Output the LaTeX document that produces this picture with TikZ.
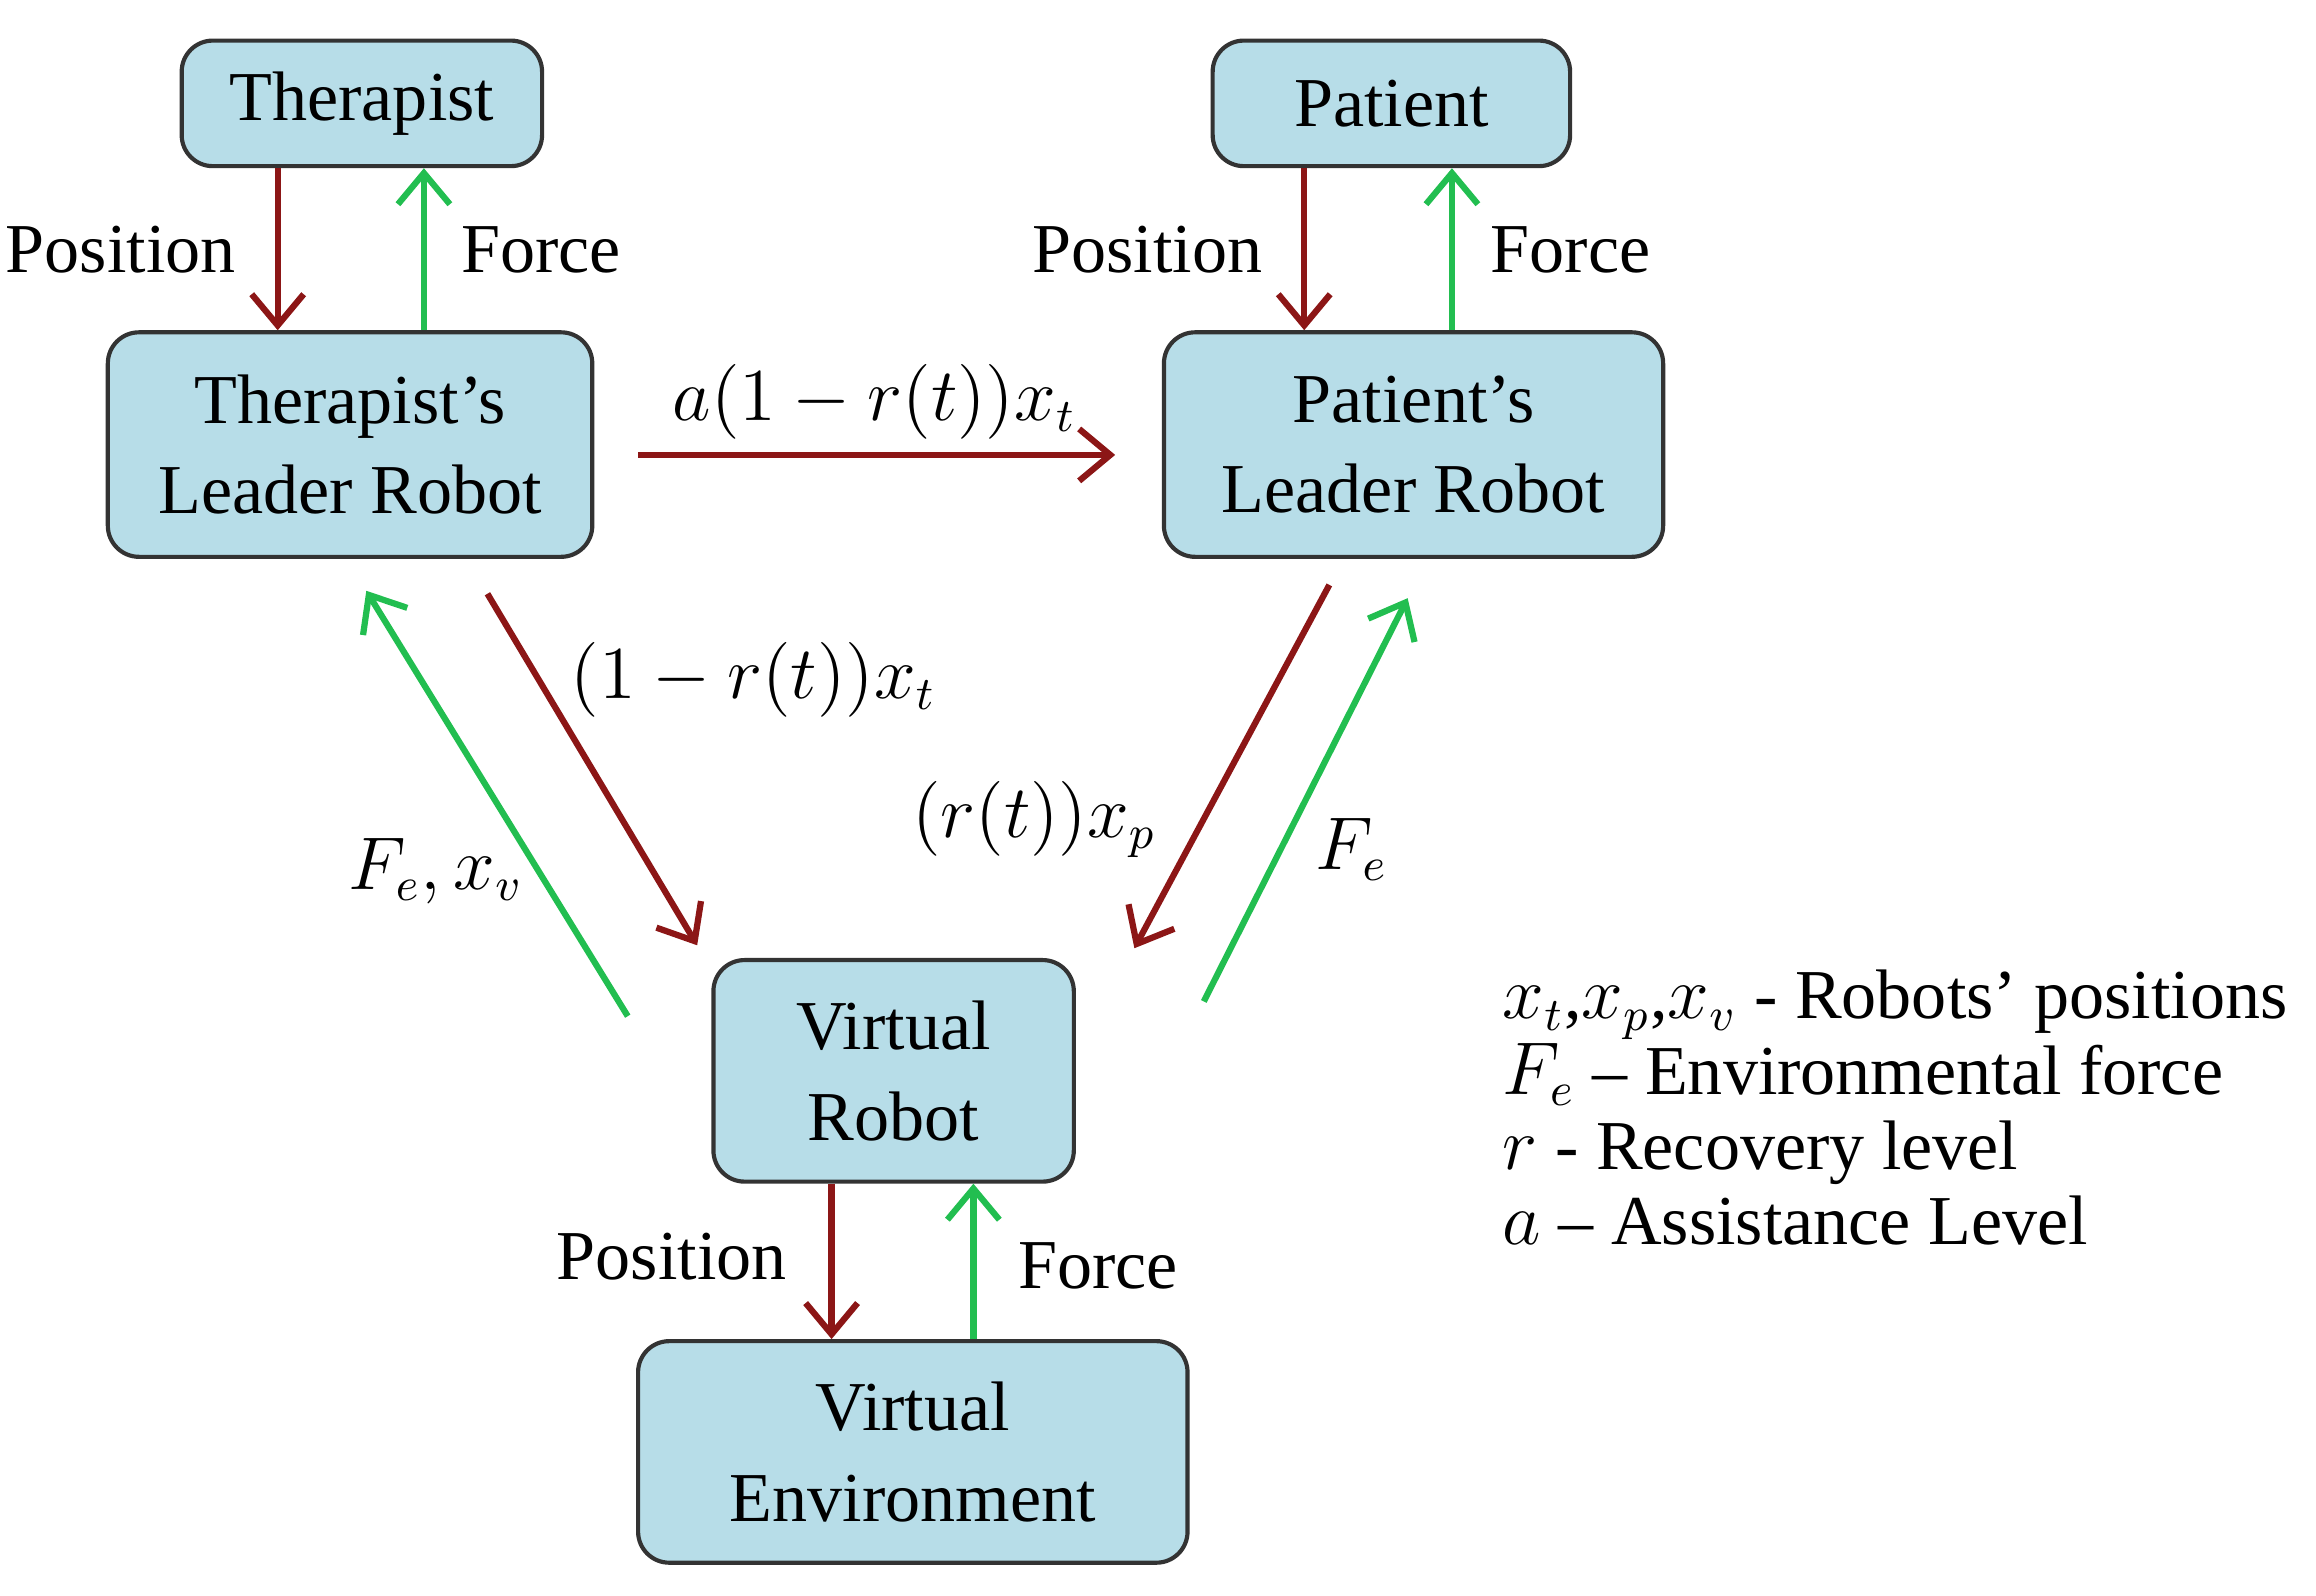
\documentclass[tikz,border=0pt]{standalone}
\usepackage{fontspec}
\setmainfont{Liberation Serif}
\usetikzlibrary{arrows.meta}
\definecolor{boxblue}{RGB}{183,221,232}
\definecolor{posred}{RGB}{140,22,22}
\definecolor{forcegreen}{RGB}{34,190,80}
\tikzset{
	block/.style={draw=black!80, fill=boxblue, rounded corners=6pt, line width=0.8pt, align=center, inner sep=0pt, font=\fontsize{13.5}{17.5}\selectfont},
	posarrow/.style={draw=posred, line width=1.2pt, -{Straight Barb[length=6pt,width=10pt,line width=1.2pt]}},
	frcarrow/.style={draw=forcegreen, line width=1.2pt, -{Straight Barb[length=6pt,width=10pt,line width=1.2pt]}},
	lbl/.style={font=\fontsize{13.5}{17.5}\selectfont}
}
\begin{document}
\begin{tikzpicture}
	\useasboundingbox (0,0) rectangle (15.68,10.8);

	%boxes
	\node[block, minimum width=2.44cm, minimum height=0.85cm] (Ther) at (2.45,10.10) {Therapist};
	\node[block, minimum width=2.42cm, minimum height=0.85cm] (Pat) at (9.42,10.10) {Patient};
	\node[block, minimum width=3.28cm, minimum height=1.52cm] (TherRob) at (2.37,7.79) {Therapist's\\Leader Robot};
	\node[block, minimum width=3.38cm, minimum height=1.52cm] (PatRob) at (9.57,7.79) {Patient's\\Leader Robot};
	\node[block, minimum width=2.44cm, minimum height=1.50cm] (VRob) at (6.05,3.55) {Virtual\\Robot};
	\node[block, minimum width=3.72cm, minimum height=1.50cm] (VEnv) at (6.18,0.97) {Virtual\\Environment};

	%vertical links
	\draw[posarrow] (Ther.south -| 1.88,0) -- (TherRob.north -| 1.88,0);
	\draw[frcarrow] (TherRob.north -| 2.87,0) -- (Ther.south -| 2.87,0);
	\node[lbl, anchor=east] (TherPos) at (1.72,9.11) {Position};
	\node[lbl, anchor=west] (TherFrc) at (3.00,9.11) {Force};

	\draw[posarrow] (Pat.south -| 8.83,0) -- (PatRob.north -| 8.83,0);
	\draw[frcarrow] (PatRob.north -| 9.83,0) -- (Pat.south -| 9.83,0);
	\node[lbl, anchor=east] (PatPos) at (8.67,9.11) {Position};
	\node[lbl, anchor=west] (PatFrc) at (9.97,9.11) {Force};

	\draw[posarrow] (VRob.south -| 5.63,0) -- (VEnv.north -| 5.63,0);
	\draw[frcarrow] (VEnv.north -| 6.59,0) -- (VRob.south -| 6.59,0);
	\node[lbl, anchor=east] (VPos) at (5.45,2.29) {Position};
	\node[lbl, anchor=west] (VFrc) at (6.77,2.23) {Force};

	%leader to leader
	\coordinate (hA) at (4.32,7.72);
	\coordinate (hB) at (7.55,7.72);
	\draw[posarrow] (hA) -- (hB);
	\node[lbl] (hLbl) at (5.92,8.08) {$a(1-r(t))x_t$};

	%diagonals
	\coordinate (d1a) at (3.30,6.78);
	\coordinate (d1b) at (4.72,4.40);
	\coordinate (d2a) at (4.25,3.92);
	\coordinate (d2b) at (2.48,6.80);
	\coordinate (d3a) at (9.00,6.84);
	\coordinate (d3b) at (7.68,4.38);
	\coordinate (d4a) at (8.15,4.02);
	\coordinate (d4b) at (9.53,6.75);
	\draw[posarrow] (d1a) -- (d1b);
	\draw[frcarrow] (d2a) -- (d2b);
	\draw[posarrow] (d3a) -- (d3b);
	\draw[frcarrow] (d4a) -- (d4b);
	\node[lbl] (d1Lbl) at (5.10,6.20) {$(1-r(t))x_t$};
	\node[lbl] (d2Lbl) at (2.95,4.90) {$F_e,x_v$};
	\node[lbl] (d3Lbl) at (7.00,5.25) {$(r(t))x_p$};
	\node[lbl] (d4Lbl) at (9.15,5.05) {$F_e$};

	%legend
	\node[lbl, anchor=west, align=left] (Legend) at (10.05,3.30) {$x_t$,$x_p$,$x_v$ - Robots' positions\\[-3pt]$F_e$ -- Environmental force\\[-3pt]$r$ - Recovery level\\[-3pt]$a$ -- Assistance Level};
\end{tikzpicture}
\end{document}
